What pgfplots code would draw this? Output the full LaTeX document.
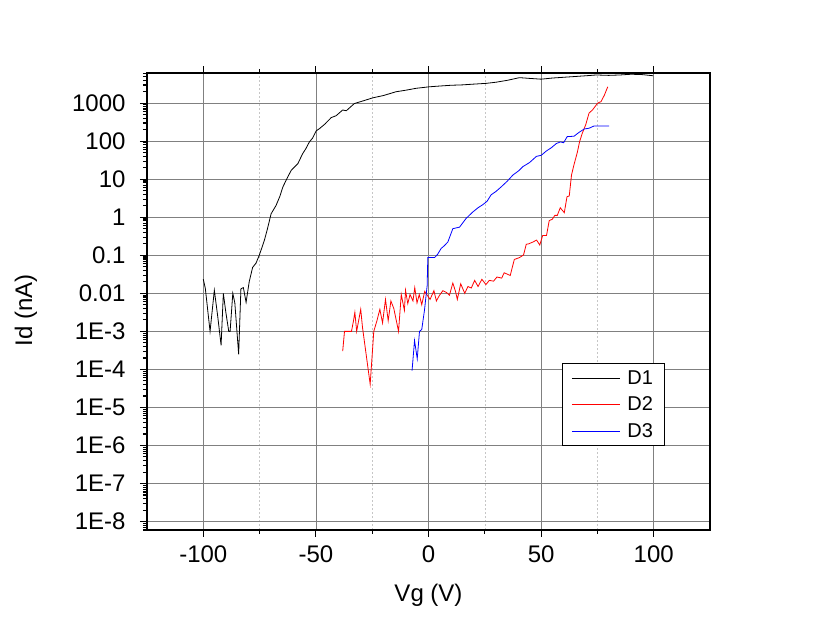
\documentclass[border=0pt]{standalone}
\usepackage{pgfplots}
\pgfplotsset{compat=1.18}
\usepackage{fontspec}
\setmainfont{Liberation Sans}

\def\minorlist{1e-10}
\foreach \e in {-9,...,3}{\foreach \m in {2,...,9}{\xdef\minorlist{\minorlist,\m e\e}}}

\begin{document}
\begin{tikzpicture}
\useasboundingbox (0,0) rectangle (825pt,634pt);
\begin{axis}[
  at={(147pt,104pt)}, anchor=south west,
  scale only axis, width=563pt, height=457pt,
  xmin=-125, xmax=125,
  ymode=log, ymin=6e-9, ymax=6200,
  xtick={-100,-50,0,50,100},
  xticklabels={-100,-50,0,50,100},
  minor xtick={-75,-25,25,75},
  ytick={1e-8,1e-7,1e-6,1e-5,1e-4,1e-3,1e-2,1e-1,1,10,100,1000},
  yticklabels={1E-8,1E-7,1E-6,1E-5,1E-4,1E-3,0.01,0.1,1,10,100,1000},
  minor ytick/.expanded={\minorlist},
  xtick pos=both, ytick pos=left,
  tick align=outside,
  major tick length=7pt, minor tick length=4pt,
  tick style={black, line width=1.1pt},
  axis line style={black, line width=1.6pt},
  xmajorgrids=true, xminorgrids=true, ymajorgrids=true, yminorgrids=false,
  major grid style={gray, line width=0.8pt},
  minor grid style={gray!45, line width=0.6pt, dash pattern=on 2pt off 2pt},
  tick label style={font=\fontsize{24}{28}\selectfont},
  yticklabel style={xshift=-11pt},
  xticklabel style={yshift=-5pt},
  xlabel={Vg (V)}, ylabel={Id (nA)},
  xlabel style={at={(axis description cs:0.5,0)}, anchor=center, yshift=-65pt, font=\fontsize{24}{28}\selectfont},
  ylabel style={at={(axis description cs:-0.215,0.48)}, anchor=center, font=\fontsize{24}{28}\selectfont},
  legend style={at={(axis description cs:0.737,0.365)}, anchor=north west,
    draw=black, line width=0.8pt, font=\fontsize{20}{24}\selectfont,
    inner xsep=9pt, inner ysep=6pt, row sep=9pt, column sep=5pt,
    nodes={anchor=west, inner xsep=2pt, inner ysep=1pt}},
  legend image code/.code={\draw[line width=1pt,#1] (0pt,0pt) -- (48pt,0pt);},
  clip=true,
]
\addplot[color=black, line width=0.8pt] coordinates {
(-100,0.0234) (-99.1,0.0135) (-97,0.001) (-95.1,0.012) (-93.6,0.0025) (-92.1,0.00043)
(-91.1,0.01) (-90,0.0032) (-88.7,0.001) (-88.1,0.001) (-86.9,0.01) (-86,0.0056)
(-84.3,0.00025) (-83.3,0.0132) (-82.2,0.0141) (-81,0.0058) (-79.6,0.0204) (-78.1,0.048)
(-76.6,0.062) (-75.1,0.102) (-74,0.158) (-72.9,0.245) (-71.5,0.5) (-69.9,1.23)
(-67.7,2.04) (-66,3.55) (-64.7,6.2) (-63,10) (-61,17) (-59.5,21) (-58,25.7)
(-55.9,46.8) (-54.5,63) (-52.9,95.5) (-51.5,120) (-49.9,186) (-48.4,214) (-46,282)
(-43.2,417) (-41,468) (-38.1,661) (-36.5,631) (-35,759) (-32.9,977) (-29,1148)
(-24.7,1380) (-20,1585) (-14.4,1995) (-10,2190) (-5.5,2455) (0.4,2690) (5,2818)
(10,2950) (15,3020) (20,3160) (25.6,3311) (30,3550) (35,3980) (40.4,4677) (45,4467)
(50,4266) (55,4570) (60,4786) (65,5012) (70,5250) (74.5,5500) (80,5370) (85,5500)
(90,5750) (95,5620) (99.7,5250)
};
\addlegendentry{D1}
\addplot[color=red, line width=0.8pt] coordinates {
(-38.1,3.02e-4) (-37.3,1e-3) (-34.2,1e-3) (-33.3,1.905e-3) (-32.7,3.16e-3) (-31.9,1e-3)
(-30.1,3.80e-3) (-29.3,1.26e-3) (-25.9,4.07e-5) (-24.3,1e-3) (-22.9,1.905e-3)
(-21.6,3.80e-3) (-20.4,1.66e-3) (-19.1,6.92e-3) (-17.9,1.905e-3) (-16.7,6.31e-3)
(-15.4,3.98e-3) (-13.3,1e-3) (-12.1,9.33e-3) (-10.7,3.55e-3) (-10.2,1.20e-2)
(-9.2,5.37e-3) (-8.2,9.33e-3) (-6.9,6.31e-3) (-6.1,1.41e-2) (-5.1,5.62e-3)
(-4.1,9.33e-3) (-3,5.01e-3) (-1.7,1.12e-2) (0.7,6.92e-3) (2.4,1.175e-2) (3.5,6.31e-3)
(4.9,8.91e-3) (6.4,1.175e-2) (8,1.05e-2) (9.3,8.91e-3) (10.8,1.86e-2) (12,1.12e-2)
(12.8,6.92e-3) (14.3,1.78e-2) (16.1,1e-2) (17.5,1.51e-2) (19,1.38e-2) (20.5,2.19e-2)
(22,1.51e-2) (23.7,2.34e-2) (25.5,1.70e-2) (27,2.19e-2) (28.9,2.09e-2) (30.4,2.69e-2)
(32.5,2.51e-2) (33.6,3.47e-2) (36.3,2.95e-2) (38.1,7.76e-2) (40.4,8.71e-2) (42.2,0.102)
(43.4,0.195) (44.5,0.2) (46.4,0.224) (48,0.251) (49.4,0.186) (50.7,0.331) (52.4,0.331)
(53.6,0.813) (55,0.891) (56.1,1.122) (57.2,1.122) (58.5,1.778) (60.3,1.318) (61.5,3.467)
(62.5,3.631) (63.5,12.88) (64.6,23.99) (66.1,51.29) (67.1,97.7) (68.3,162.2) (69.8,269.2)
(71.3,549.5) (72.8,660.7) (75.1,1000) (76.6,1096) (78.1,1622) (79.6,2692)
};
\addlegendentry{D2}
\addplot[color=blue, line width=0.8pt] coordinates {
(-7.3,9.33e-5) (-6.2,5.75e-4) (-5.0,1.905e-4) (-4.0,1e-3) (-3.0,1.12e-3) (-1.8,3.55e-3)
(-0.6,1.58e-2) (-0.3,8.71e-2) (2.7,8.71e-2) (4.0,0.105) (5.6,0.151) (7,0.178) (8.6,0.224)
(10.8,0.501) (13.8,0.550) (16.7,0.933) (19.7,1.38) (22,1.778) (24.1,2.14) (26,2.63)
(27.8,3.89) (30,4.79) (32.3,6.31) (35,8.91) (37.5,12.9) (40,16.6) (41.9,21.4) (44.9,27.5)
(47.9,39.8) (50.1,42.7) (52.3,55.0) (54.6,67.6) (56.8,87.1) (58.6,95.5) (60,91.2)
(61.6,131.8) (64.6,134.9) (66.8,169.8) (69.1,208.9) (71.3,218.8) (73.5,251.2) (80.2,251.2)
};
\addlegendentry{D3}
\end{axis}
\end{tikzpicture}
\end{document}
